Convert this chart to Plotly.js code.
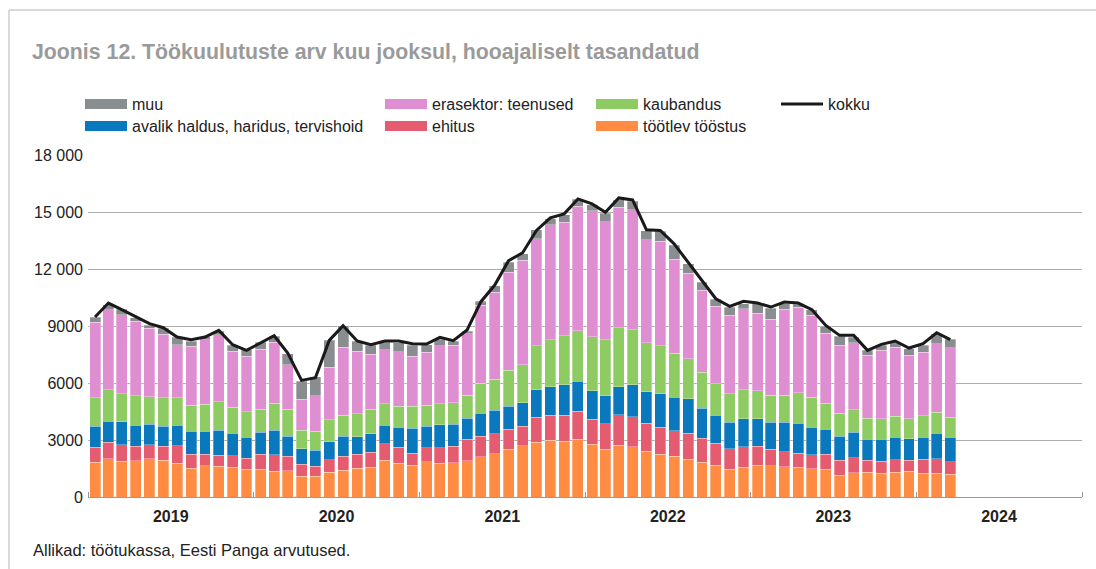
<!DOCTYPE html>
<html>
<head>
<meta charset="utf-8">
<script src="https://cdn.plot.ly/plotly-3.0.1.min.js"></script>
<style>html,body{margin:0;padding:0;background:#fff;}#chart{width:1096px;height:569px;}</style>
</head>
<body>
<div id="chart"></div>
<script>
// Months: Jan 2019 .. Mar 2024
const months = [
 '2019-01-01','2019-02-01','2019-03-01','2019-04-01','2019-05-01','2019-06-01','2019-07-01','2019-08-01','2019-09-01','2019-10-01','2019-11-01','2019-12-01',
 '2020-01-01','2020-02-01','2020-03-01','2020-04-01','2020-05-01','2020-06-01','2020-07-01','2020-08-01','2020-09-01','2020-10-01','2020-11-01','2020-12-01',
 '2021-01-01','2021-02-01','2021-03-01','2021-04-01','2021-05-01','2021-06-01','2021-07-01','2021-08-01','2021-09-01','2021-10-01','2021-11-01','2021-12-01',
 '2022-01-01','2022-02-01','2022-03-01','2022-04-01','2022-05-01','2022-06-01','2022-07-01','2022-08-01','2022-09-01','2022-10-01','2022-11-01','2022-12-01',
 '2023-01-01','2023-02-01','2023-03-01','2023-04-01','2023-05-01','2023-06-01','2023-07-01','2023-08-01','2023-09-01','2023-10-01','2023-11-01','2023-12-01',
 '2024-01-01','2024-02-01','2024-03-01'
];

const tootlev = [
 1824,2017,1877,1912,2017,1929,1772,1508,1649,1614,1561,1456,
 1456,1351,1386,1105,1105,1298,1403,1526,1579,1929,1772,1684,
 1859,1772,1807,1912,2122,2280,2526,2701,2872,2977,2942,3047,
 2767,2521,2732,2644,2416,2241,2136,1996,1839,1681,1471,1558,
 1666,1649,1596,1561,1491,1456,1140,1280,1298,1263,1298,1351,
 1245,1263,1193
];
const ehitus = [
 789,877,877,754,737,755,929,755,614,596,614,579,
 789,877,771,631,509,666,754,737,771,877,841,631,
 737,824,877,1140,1070,1053,1052,1035,1313,1330,1365,1471,
 1330,1331,1610,1593,1454,1419,1349,1366,1260,1138,1068,1086,
 1018,877,789,737,737,807,807,790,649,631,666,596,
 737,754,666
];
const avalik = [
 1106,1105,1210,1123,1087,1052,1088,1210,1210,1316,1193,1122,
 1175,1298,1053,807,859,948,1035,912,983,983,1070,1316,
 1123,1210,1157,1105,1228,1245,1210,1228,1453,1489,1594,1575,
 1506,1471,1454,1664,1663,1768,1768,1803,1576,1471,1383,1471,
 1438,1421,1562,1578,1455,1315,1263,1333,1105,1158,1176,1123,
 1175,1351,1298
];
const kaubandus = [
 1508,1649,1473,1543,1439,1491,1438,1351,1421,1490,1350,1333,
 1193,1420,1403,983,1000,1157,1123,1210,1280,1122,1105,1157,
 1105,1105,1123,1210,1579,1614,1895,1999,2312,2469,2574,2662,
 2837,2942,3117,2907,2574,2539,2311,2119,1891,1681,1524,1541,
 1473,1403,1420,1614,1579,1368,1210,1192,1105,1070,1122,1052,
 1123,1087,1053
];
const erasektor = [
 3964,4209,4157,3929,3595,3333,2789,3122,3385,3526,2965,2929,
 3175,3210,2350,1631,1859,2754,3560,3280,2912,2842,2859,2631,
 2806,3052,3017,3228,4087,4595,5139,5490,5655,6058,5988,6549,
 6636,6233,6338,6321,5428,5481,4956,4500,4308,4080,4132,4255,
 4087,3999,4508,4508,4297,3684,3561,3526,3298,3596,3631,3333,
 3350,3613,3648
];
const muu = [
 263,250,299,176,176,315,386,263,158,193,298,334,
 351,298,579,929,1000,1421,1141,526,456,403,474,562,
 386,334,228,140,228,333,544,351,456,315,403,380,
 315,438,403,437,491,542,718,491,420,350,420,262,
 491,596,298,140,298,350,473,298,263,263,263,350,
 351,527,439
];
const kokku = [
 9472,10208,9858,9507,9121,8910,8419,8279,8419,8770,8016,7718,
 8121,8489,7577,6139,6279,8244,9016,8209,8016,8209,8209,8068,
 8051,8405,8230,8790,10280,11155,12436,12856,14026,14691,14901,15689,
 15426,14989,15741,15636,14060,14026,13325,12362,11364,10436,10033,10296,
 10208,9998,10261,10208,9858,9033,8507,8507,7718,8033,8209,7840,
 8068,8647,8279
];

const yTickVals = [0,3000,6000,9000,12000,15000,18000];
const yTickText = ['0','3000','6000','9000','12 000','15 000','18 000'];

const C = {
  muu:'#8a8d8f', avalik:'#0a78bc', erasektor:'#df8fd1',
  ehitus:'#e55b6f', kaubandus:'#8ecb62', tootlev:'#ff8c42', kokku:'#1a1a1a'
};

const FONT = 'Liberation Sans, Arial, Helvetica, sans-serif';

function barTrace(name, y, color){
  return {type:'bar', name:name, x:months, y:y, xperiod:'M1', xperiodalignment:'middle',
    marker:{color:color, line:{color:'rgba(255,255,255,0.6)', width:0.5}}, showlegend:false,
    hovertemplate:'%{y}<extra>'+name+'</extra>'};
}
function legTrace(name, color, leg, w){
  return {type:'scatter', mode:'lines', x:[null], y:[null], name:name, legend:leg,
    line:{color:color, width:w}, hoverinfo:'skip'};
}

const traces = [
  barTrace('töötlev tööstus', tootlev, C.tootlev),
  barTrace('ehitus', ehitus, C.ehitus),
  barTrace('avalik haldus, haridus, tervishoid', avalik, C.avalik),
  barTrace('kaubandus', kaubandus, C.kaubandus),
  barTrace('erasektor: teenused', erasektor, C.erasektor),
  barTrace('muu', muu, C.muu),
  {type:'scatter', mode:'lines', name:'kokku', x:months, y:kokku, xperiod:'M1', xperiodalignment:'middle',
   line:{color:C.kokku, width:3}, showlegend:false},
  legTrace('muu', C.muu, 'legend', 12),
  legTrace('avalik haldus, haridus, tervishoid', C.avalik, 'legend2', 12),
  legTrace('erasektor: teenused', C.erasektor, 'legend3', 12),
  legTrace('ehitus', C.ehitus, 'legend4', 12),
  legTrace('kaubandus', C.kaubandus, 'legend5', 12),
  legTrace('töötlev tööstus', C.tootlev, 'legend6', 12),
  legTrace('kokku', C.kokku, 'legend7', 3)
];

const L = 88, R = 14, T = 155, B = 72, W = 1096, H = 569;
const pw = W - L - R, ph = H - T - B;
function px2x(px){ return (px - L) / pw; }
function py2y(py){ return (H - B - py) / ph; }

const legFont = {family:FONT, size:16, color:'#222'};
function legend(xpx, ypx){
  return {x:px2x(xpx), y:py2y(ypx), xanchor:'left', yanchor:'middle', orientation:'v',
    bgcolor:'rgba(0,0,0,0)', borderwidth:0, font:legFont, itemwidth:42,
    itemclick:false, itemdoubleclick:false};
}
const row1 = 104, row2 = 126;

const layout = {
  width:W, height:H,
  margin:{l:L, r:R, t:T, b:B},
  paper_bgcolor:'#fff', plot_bgcolor:'#fff',
  barmode:'stack', bargap:0.18,
  font:{family:FONT, size:16, color:'#222'},
  title:{text:'<b>Joonis 12. Töökuulutuste arv kuu jooksul, hooajaliselt tasandatud</b>',
    xref:'container', yref:'container', x:32/W, xanchor:'left', y:1-52/H, yanchor:'middle',
    font:{family:FONT, size:21.3, color:'#9a9a9a'}},
  xaxis:{type:'date', range:['2019-01-01','2025-01-01'], dtick:'M12', tick0:'2019-01-01',
    ticklabelmode:'period', tickformat:'%Y', ticks:'inside', ticklen:5, tickcolor:'#999',
    showline:true, linecolor:'#9a9a9a', linewidth:1, showgrid:false, zeroline:false,
    ticklabelstandoff:5,
    tickfont:{family:FONT, size:16, color:'#222', weight:'bold'},
    fixedrange:true},
  yaxis:{range:[0,18000], tickvals:yTickVals, ticktext:yTickText, showgrid:true,
    gridcolor:'#adadad', gridwidth:1, zeroline:false, showline:false, ticks:'',
    ticklabelstandoff:4, tickfont:{family:FONT, size:16, color:'#222'},
    fixedrange:true},
  legend:legend(80, row1),
  legend2:legend(80, row2),
  legend3:legend(380, row1),
  legend4:legend(380, row2),
  legend5:legend(591, row1),
  legend6:legend(591, row2),
  legend7:legend(776, row1),
  shapes:[
    {type:'rect', xref:'paper', yref:'paper', x0:px2x(9), x1:px2x(1110), y0:py2y(600), y1:py2y(10),
     line:{color:'#b5b5b5', width:1}, fillcolor:'rgba(0,0,0,0)', layer:'below'}
  ],
  annotations:[
    {text:'Allikad: töötukassa, Eesti Panga arvutused.', xref:'paper', yref:'paper',
     x:px2x(31), y:py2y(550), xanchor:'left', yanchor:'middle', showarrow:false,
     font:{family:FONT, size:16.5, color:'#222'}}
  ],
  showlegend:true
};

Plotly.newPlot('chart', traces, layout, {displayModeBar:false, staticPlot:true});
</script>
</body>
</html>
